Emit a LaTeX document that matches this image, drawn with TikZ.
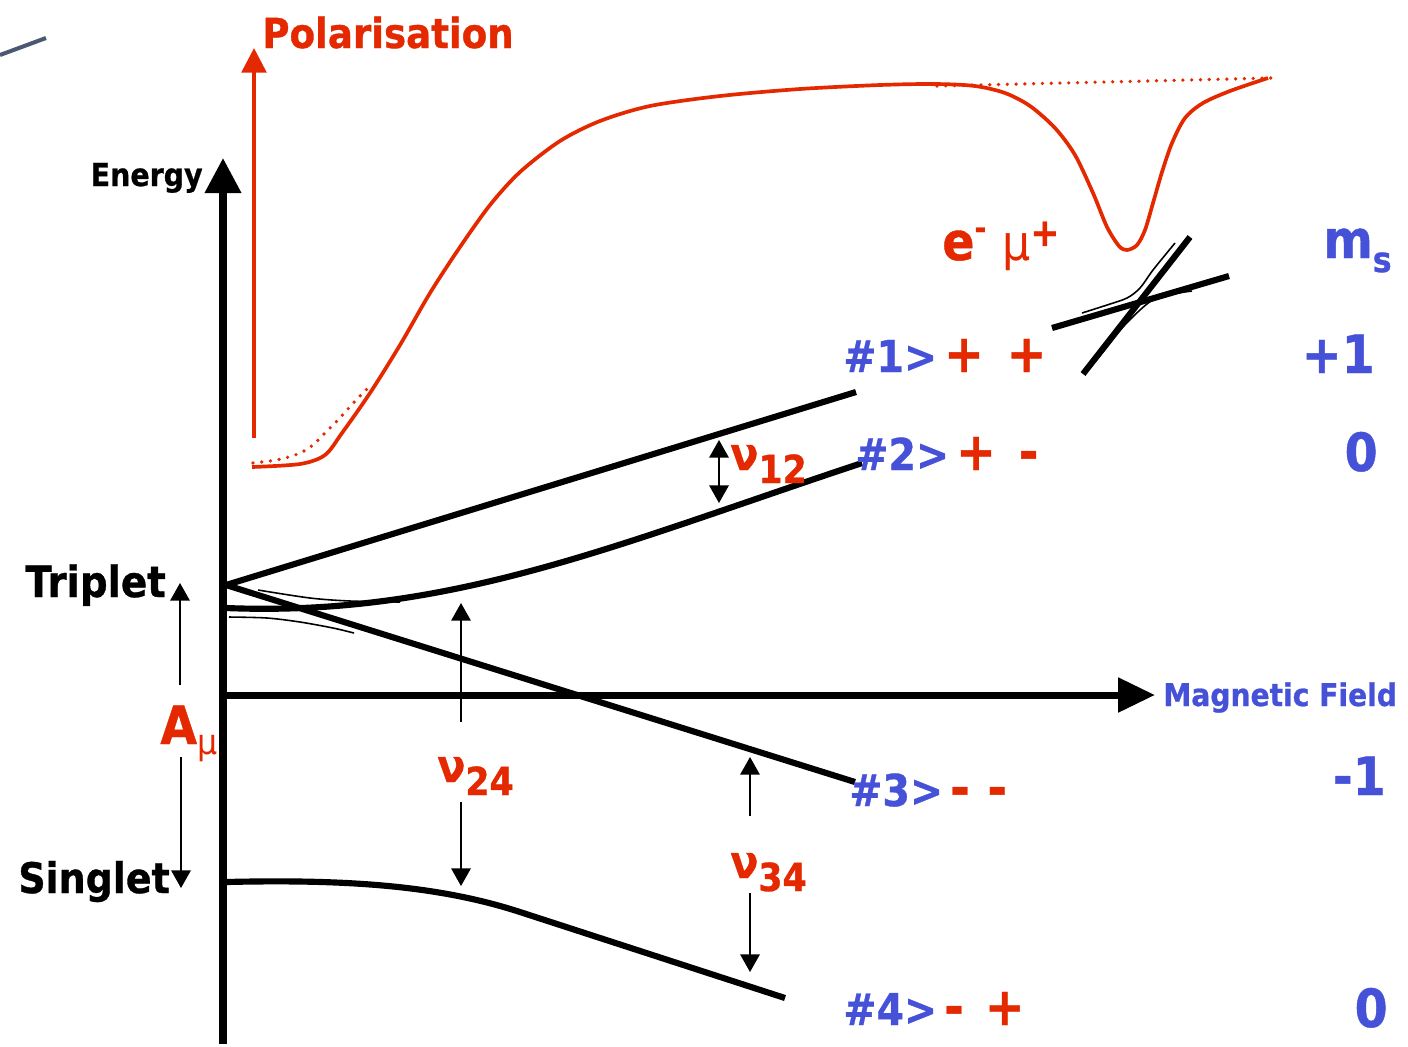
\documentclass[tikz,border=0pt]{standalone}
\usepackage{fontspec}
\setmainfont{DejaVu Sans}[FakeStretch=0.9, BoldFeatures={FakeBold=0.8}]
\usetikzlibrary{arrows.meta, positioning}
\definecolor{polred}{HTML}{E42800}
\definecolor{stateblue}{HTML}{4552D8}
\definecolor{slidegrey}{HTML}{4B5872}
\newcommand{\bsz}[1]{\fontsize{#1}{#1}\selectfont\bfseries}
\newcommand{\rsz}[1]{\fontsize{#1}{#1}\selectfont\mdseries}

\begin{document}
\begin{tikzpicture}[x=0.02cm, y=-0.02cm,
  axis/.style={line width=4pt, -{Triangle[length=20pt, width=20pt]}},
  level/.style={line width=3.5pt},
  hint/.style={line width=0.9pt},
  gap/.style={line width=1.1pt, -{Triangle[length=10pt, width=11pt]}},
  pol/.style={draw=polred, line width=2.1pt},
  dots/.style={pol, line cap=round, dash pattern=on 0pt off 5pt},
  txt/.style={inner sep=0pt, anchor=base west},
  state/.style={txt, font=\bsz{25}},
  msval/.style={txt, anchor=base east, text=stateblue, font=\bsz{30}},
  freq/.style={txt, text=polred, font=\bsz{26}}]
\useasboundingbox (0,0) rectangle (1408,1046);

% slide decoration
\draw[slidegrey, line width=2.3pt] (0,55) -- (46,38);

% axes
\coordinate (eBot) at (223,1044);
\coordinate (eTop) at (223,158);
\coordinate (bOrg) at (221,695);
\coordinate (bEnd) at (1155,695);
\draw[axis] (eBot) -- (eTop);
\draw[axis, -{Triangle[length=21pt, width=19pt]}] (bOrg) -- (bEnd);
\node[txt, anchor=base east, font=\bsz{18}] (energy) at (203,186) {Energy};
\node[txt, text=stateblue, font=\bsz{17.8}] (field) at (1163,706) {Magnetic Field};

% polarisation
\coordinate (pBot) at (254,438);
\coordinate (pTop) at (254,48);
\draw[pol, -{Triangle[length=14pt, width=14pt]}] (pBot) -- (pTop);
\node[txt, text=polred, font=\bsz{23.5}] (polar) at (262,48) {Polarisation};
\draw[pol] plot[smooth] coordinates {(252,467) (300,464) (325,455) (342,433)
  (370,393) (400,345) (430,293) (460,247) (490,205) (520,172) (560,141)
  (600,121) (650,106) (720,96) (800,89) (880,85) (935,84) (975,86) (1005,93)
  (1030,106) (1055,128) (1075,155) (1093,193) (1107,227) (1119,246) (1127,250)
  (1137,245) (1145,230) (1153,203) (1162,172) (1172,143) (1185,118) (1203,103)
  (1230,91) (1268,78)};
\draw[dots] plot[smooth] coordinates {(253,463) (270,461) (285,458) (300,453)
  (313,445) (325,433) (337,421) (347,410) (358,398) (370,386)};
\draw[dots] (937,86) -- (1272,78);
\node[txt, text=polred, font=\bsz{30}] (emu) at (942,260)
  {e\raisebox{12pt}{\bsz{18}-}\hspace{9pt}{\rsz{28}μ}\raisebox{8pt}{\bsz{22}+}};

% level crossing
\coordinate (xa1) at (1052,328);
\coordinate (xa2) at (1229,276);
\coordinate (xb1) at (1083,374);
\coordinate (xb2) at (1190,237);
\draw[level] (xa1) -- (xa2);
\draw[level] (xb1) -- (xb2);
\draw[hint] plot[smooth] coordinates {(1082,313) (1107,305) (1127,298)
  (1140,288) (1153,270) (1175,243)};
\draw[hint] plot[smooth] coordinates {(1095,362) (1107,347) (1123,327)
  (1140,310) (1153,300) (1173,294) (1192,291)};

% triplet and singlet levels
\coordinate (trip) at (226,585);
\coordinate (lv1) at (856,392);
\coordinate (lv3) at (855,782);
\coordinate (lv2a) at (226,608);
\coordinate (lv2b) at (862,463);
\coordinate (lv4a) at (226,882);
\coordinate (lv4m) at (520,912);
\coordinate (lv4b) at (785,998);
\draw[level] (trip) -- (lv1);
\draw[level] (trip) -- (lv3);
\draw[level] (lv2a) .. controls (450,617) and (612,546) .. (lv2b);
\draw[level] (lv4a) .. controls (350,879) and (440,886) .. (lv4m) -- (lv4b);
\draw[hint] plot[smooth] coordinates {(258,590) (310,598) (350,601) (400,602)};
\draw[hint] plot[smooth] coordinates {(229,617) (267,618) (300,622)
  (333,628) (354,633)};

\node[txt, font=\bsz{24.5}] (triplet) at (25,597) {Triplet};
\node[txt, font=\bsz{24}] (singlet) at (18,893) {Singlet};

% hyperfine splitting
\coordinate (aUp) at (180,685);
\coordinate (aTop) at (180,583);
\coordinate (aDn) at (181,757);
\coordinate (aBot) at (181,888);
\draw[gap] (aUp) -- (aTop);
\draw[gap] (aDn) -- (aBot);
\node[txt, text=polred, font=\bsz{30}] (amu) at (160,744)
  {A\raisebox{-6pt}{\rsz{20}μ}};

% transition frequencies
\coordinate (f12a) at (719,440);
\coordinate (f12b) at (719,503);
\draw[gap, {Triangle[length=10pt, width=11pt]}-{Triangle[length=10pt, width=11pt]}] (f12a) -- (f12b);
\node[freq] (nu12) at (730,470) {ν\raisebox{-7.4pt}{\bsz{22}12}};

\coordinate (f24a) at (461,722);
\coordinate (f24b) at (461,603);
\coordinate (f24c) at (461,802);
\coordinate (f24d) at (461,886);
\draw[gap] (f24a) -- (f24b);
\draw[gap] (f24c) -- (f24d);
\node[freq] (nu24) at (437,782) {ν\raisebox{-7.4pt}{\bsz{22}24}};

\coordinate (f34a) at (750,816);
\coordinate (f34b) at (750,757);
\coordinate (f34c) at (750,893);
\coordinate (f34d) at (750,972);
\draw[gap] (f34a) -- (f34b);
\draw[gap] (f34c) -- (f34d);
\node[freq] (nu34) at (730,878) {ν\raisebox{-7.4pt}{\bsz{22}34}};

% state labels
\node[state] (st1) at (843,372) {\textcolor{stateblue}{\#1>}\hspace{4pt}\textcolor{polred}{\bsz{30}+\hspace{13pt}+}};
\node[state] (st2) at (855,470) {\textcolor{stateblue}{\#2>}\hspace{4pt}\textcolor{polred}{\bsz{30}+\hspace{13pt}-}};
\node[state] (st3) at (849,806) {\textcolor{stateblue}{\#3>}\hspace{4pt}\textcolor{polred}{\bsz{30}-\hspace{10pt}-}};
\node[state] (st4) at (843,1025) {\textcolor{stateblue}{\#4>}\hspace{4pt}\textcolor{polred}{\bsz{30}-\hspace{12pt}+}};

% m_s column
\node[txt, text=stateblue, font=\bsz{30}] (ms) at (1323,258)
  {m\raisebox{-8pt}{\bsz{20}s}};
\node[msval] (ms1) at (1375,373) {+1};
\node[msval] (ms2) at (1378,471) {0};
\node[msval] (ms3) at (1386,795) {-1};
\node[msval] (ms4) at (1388,1027) {0};
\end{tikzpicture}
\end{document}
